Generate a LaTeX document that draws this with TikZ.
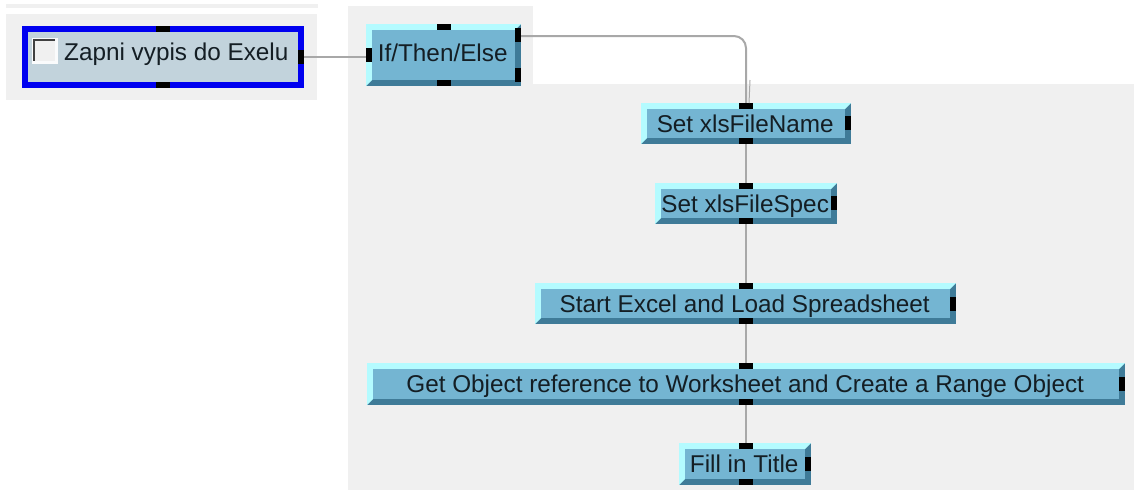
\documentclass[tikz,border=0pt]{standalone}
\usepackage{fontspec}
\setmainfont{Liberation Sans}
\definecolor{bggray}{HTML}{F0F0F0}
\definecolor{boxmain}{HTML}{74B5D2}
\definecolor{boxlight}{HTML}{B4FBFF}
\definecolor{boxdark}{HTML}{3F7B98}
\definecolor{wire}{HTML}{A8A8A8}
\definecolor{sel}{HTML}{0000F0}
\definecolor{ctrlfill}{HTML}{C2D3DC}
\definecolor{txt}{HTML}{141E24}
\tikzset{
  x=1pt,y=-1pt,
  portbox/.style={fill=black,draw=none,inner sep=0pt,minimum width=14pt,minimum height=6pt},
  portside/.style={fill=black,draw=none,inner sep=0pt,minimum width=6pt,minimum height=14pt},
  wireline/.style={draw=wire,line width=2pt},
  label/.style={inner sep=0pt,text=txt,text height=17.5pt,text depth=0pt,font=\fontsize{24.3}{28}\selectfont},
}
% name, x1, y1, x2, y2, text
\newcommand{\vibox}[6]{%
  \fill[boxdark] (#2,#3) rectangle (#4,#5);
  \fill[boxlight] (#2,#3) -- (#4,#3) -- ({#4-6},{#3+6}) -- ({#2+6},{#3+6}) -- ({#2+6},{#5-6}) -- (#2,#5) -- cycle;
  \node[fill=boxmain,draw=none,inner sep=0pt,anchor=north west,minimum width={#4-#2-12},minimum height={#5-#3-12}] (#1) at ({#2+6},{#3+6}) {};
  \node[label,xshift=-1pt] (#1t) at (#1.center) {#6};
}
\begin{document}
\begin{tikzpicture}
\useasboundingbox (0,0) rectangle (1134,491);
\fill[white] (0,0) rectangle (1134,491);
\fill[bggray] (6,4) rectangle (318,8);
\fill[bggray] (6,14) rectangle (317,100);
\fill[bggray] (348,6) rectangle (533,84);
\fill[bggray] (348,84) rectangle (1134,490);
% control
\fill[sel] (22,26) rectangle (304,88);
\node[fill=ctrlfill,draw=none,inner sep=0pt,anchor=north west,minimum width=270pt,minimum height=50pt] (ctrl) at (28,32) {};
\fill[white!92!ctrlfill] (32,38) rectangle (58,64);
\fill[bggray] (33,39) rectangle (55,61);
\fill[black!75] (32.5,38.5) rectangle (35,61);
\fill[black!75] (32.5,38.5) rectangle (55,41);
\node[label,anchor=west] (ctrlt) at (64,52) {Zapni vypis do Exelu};
\node[portbox] (ctrltop) at (163,29) {};
\node[portbox] (ctrlbot) at (163,85) {};
\node[portside] (ctrlr) at (301,57) {};
% boxes
\vibox{ifb}{366}{24}{521}{86}{\raisebox{2pt}{If/Then/Else}}
\vibox{fname}{641}{103}{851}{144}{Set xlsFileName}
\vibox{fspec}{655}{183}{837}{224}{Set xlsFileSpec}
\vibox{start}{535}{283}{956}{324}{Start Excel and Load Spreadsheet}
\vibox{getobj}{367}{363}{1125}{405}{Get Object reference to Worksheet and Create a Range Object}
\vibox{fill}{679}{443}{811}{485}{Fill in Title}
% ports
\node[portbox] (ifT) at (444,27) {};
\node[portbox] (ifB) at (444,83) {};
\node[portside] (ifL) at (369,55) {};
\node[portside] (ifR1) at (518,35) {};
\node[portside] (ifR2) at (518,75) {};
\node[portbox] (fnT) at (746,106) {};
\node[portbox] (fnB) at (746,141) {};
\node[portside] (fnR) at (848,123) {};
\node[portbox] (fsT) at (746,186) {};
\node[portbox] (fsB) at (746,221) {};
\node[portside] (fsR) at (834,203) {};
\node[portbox] (stT) at (746,286) {};
\node[portbox] (stB) at (746,321) {};
\node[portside] (stR) at (953,304) {};
\node[portbox] (goT) at (746,366) {};
\node[portbox] (goB) at (746,402) {};
\node[portside] (goR) at (1122,384) {};
\node[portbox] (fiT) at (746,446) {};
\node[portbox] (fiB) at (746,482) {};
\node[portside] (fiR) at (808,464) {};
% connectors
\coordinate (stub) at (750,80);
\draw[wireline] (ctrlr.east) -- (ifL.west |- ctrlr);
\draw[wireline,rounded corners=12pt] (ifR1.east |- 0,36) -- (746,36) -- (fnT.north);
\draw[draw=wire,line width=1pt] (stub) -- (749,103);
\draw[wireline] (fnB.south) -- (fsT.north);
\draw[wireline] (fsB.south) -- (stT.north);
\draw[wireline] (stB.south) -- (goT.north);
\draw[wireline] (goB.south) -- (fiT.north);
\end{tikzpicture}
\end{document}
